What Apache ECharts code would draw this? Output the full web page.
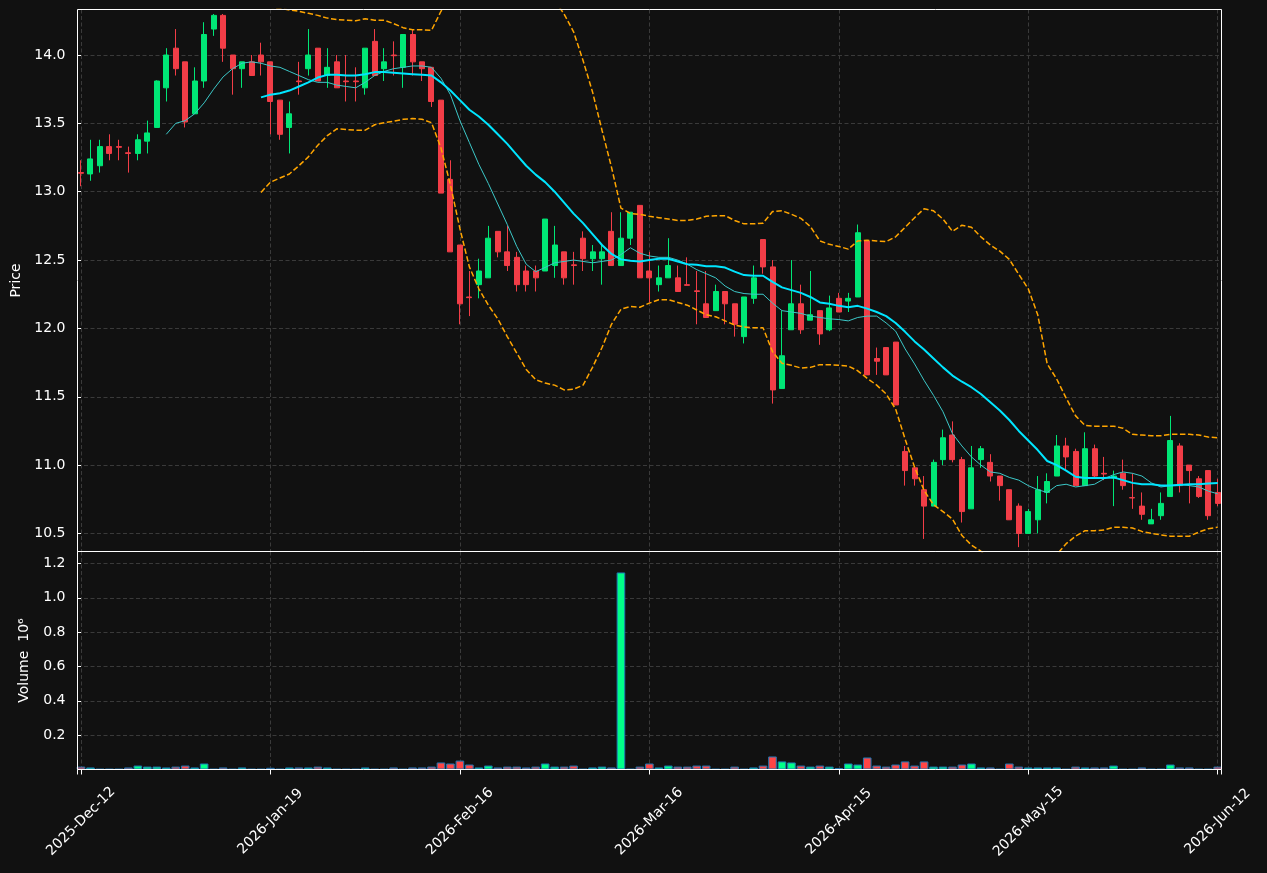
<!DOCTYPE html>
<html>
<head>
<meta charset="utf-8">
<script src="https://cdn.jsdelivr.net/npm/echarts@6/dist/echarts.min.js"></script>
<style>
  html, body { margin: 0; padding: 0; background: #111111; }
  #chart { width: 1267px; height: 873px; }
</style>
</head>
<body>
<div id="chart"></div>
<script>
// x tick labels, one every 20 sessions
const tickLabels = ['2025-Dec-12', '2026-Jan-19', '2026-Feb-16', '2026-Mar-16', '2026-Apr-15', '2026-May-15', '2026-Jun-12']

const opens = [
  13.14, 13.13, 13.19, 13.33, 13.33, 13.285, 13.28, 13.37, 13.47, 13.76,
  14.05, 13.95, 13.57, 13.81, 14.19, 14.29, 14.00, 13.90, 13.95, 14.00,
  13.95, 13.67, 13.47, 13.81, 13.90, 14.05, 13.85, 13.95, 13.81, 13.81,
  13.76, 14.10, 13.90, 14.00, 13.91, 14.15, 13.95, 13.91, 13.67, 13.09,
  12.61, 12.23, 12.32, 12.37, 12.71, 12.56, 12.52, 12.42, 12.42, 12.42,
  12.46, 12.56, 12.465, 12.66, 12.51, 12.51, 12.71, 12.46, 12.66, 12.90,
  12.42, 12.32, 12.37, 12.37, 12.32, 12.275, 12.18, 12.13, 12.27, 12.18,
  11.94, 12.22, 12.65, 12.45, 11.56, 11.99, 12.18, 12.06, 12.13, 11.99,
  12.22, 12.20, 12.23, 12.64, 11.78, 11.86, 11.90, 11.10, 10.98, 10.82,
  10.70, 11.04, 11.22, 11.04, 10.68, 11.04, 11.02, 10.92, 10.82, 10.70,
  10.50, 10.60, 10.80, 10.92, 11.14, 11.10, 10.85, 11.12, 10.94, 10.905,
  10.94, 10.762, 10.70, 10.57, 10.63, 10.77, 11.14, 11.00, 10.90, 10.96,
  10.80
]
const closes = [
  13.135, 13.24, 13.33, 13.28, 13.325, 13.28, 13.38, 13.43, 13.81, 14.00,
  13.90, 13.51, 13.81, 14.15, 14.29, 14.05, 13.90, 13.95, 13.85, 13.95,
  13.66, 13.42, 13.57, 13.805, 14.00, 13.81, 13.91, 13.76, 13.805, 13.805,
  14.05, 13.85, 13.95, 13.995, 14.15, 13.95, 13.90, 13.66, 12.99, 12.56,
  12.18, 12.225, 12.42, 12.66, 12.56, 12.46, 12.32, 12.32, 12.37, 12.80,
  12.61, 12.37, 12.46, 12.51, 12.56, 12.56, 12.46, 12.66, 12.85, 12.37,
  12.37, 12.37, 12.46, 12.27, 12.315, 12.27, 12.08, 12.27, 12.18, 12.03,
  12.23, 12.37, 12.45, 11.55, 11.80, 12.18, 11.99, 12.10, 11.96, 12.15,
  12.12, 12.22, 12.70, 11.66, 11.76, 11.66, 11.44, 10.96, 10.90, 10.70,
  11.02, 11.20, 11.04, 10.66, 10.98, 11.12, 10.92, 10.85, 10.60, 10.50,
  10.66, 10.82, 10.88, 11.14, 11.06, 10.85, 11.12, 10.92, 10.935, 10.92,
  10.85, 10.76, 10.64, 10.60, 10.72, 11.18, 10.85, 10.96, 10.77, 10.63,
  10.72
]
const lows = [
  13.04, 13.08, 13.14, 13.23, 13.23, 13.14, 13.23, 13.28, 13.47, 13.66,
  13.85, 13.47, 13.57, 13.76, 14.14, 13.95, 13.71, 13.76, 13.85, 13.85,
  13.42, 13.38, 13.28, 13.71, 13.85, 13.81, 13.76, 13.76, 13.66, 13.66,
  13.71, 13.85, 13.81, 13.85, 13.76, 13.85, 13.81, 13.62, 12.99, 12.56,
  12.03, 12.09, 12.22, 12.37, 12.52, 12.42, 12.27, 12.27, 12.27, 12.42,
  12.37, 12.32, 12.32, 12.42, 12.42, 12.32, 12.46, 12.46, 12.61, 12.37,
  12.19, 12.27, 12.37, 12.27, 12.315, 12.03, 12.08, 12.13, 12.03, 11.94,
  11.89, 12.18, 12.40, 11.45, 11.56, 11.99, 11.96, 12.06, 11.88, 11.98,
  12.12, 12.12, 12.23, 11.66, 11.66, 11.66, 11.44, 10.85, 10.85, 10.46,
  10.70, 11.00, 11.02, 10.58, 10.68, 10.98, 10.88, 10.74, 10.60, 10.40,
  10.50, 10.50, 10.72, 10.92, 10.96, 10.85, 10.85, 10.90, 10.89, 10.70,
  10.82, 10.68, 10.60, 10.57, 10.60, 10.77, 10.80, 10.72, 10.76, 10.60,
  10.70
]
const highs = [
  13.23, 13.38, 13.38, 13.42, 13.38, 13.33, 13.42, 13.52, 13.815, 14.05,
  14.19, 13.95, 13.91, 14.24, 14.30, 14.30, 14.00, 13.95, 14.00, 14.09,
  13.95, 13.67, 13.66, 13.95, 14.19, 14.05, 14.05, 14.00, 14.00, 13.91,
  14.05, 14.19, 14.05, 14.10, 14.15, 14.19, 13.95, 13.91, 13.67, 13.23,
  12.61, 12.42, 12.51, 12.75, 12.71, 12.75, 12.56, 12.46, 12.46, 12.80,
  12.75, 12.56, 12.56, 12.71, 12.61, 12.61, 12.85, 12.85, 12.85, 12.90,
  12.56, 12.46, 12.66, 12.46, 12.52, 12.42, 12.42, 12.32, 12.27, 12.18,
  12.23, 12.46, 12.65, 12.50, 12.13, 12.50, 12.32, 12.42, 12.13, 12.24,
  12.26, 12.26, 12.76, 12.64, 11.86, 11.86, 11.90, 11.14, 10.98, 10.92,
  11.04, 11.26, 11.32, 11.06, 11.14, 11.14, 11.08, 10.92, 10.82, 10.72,
  10.68, 10.92, 10.94, 11.22, 11.20, 11.12, 11.24, 11.15, 11.06, 10.96,
  11.04, 10.94, 10.80, 10.68, 10.80, 11.36, 11.16, 11.00, 10.92, 10.96,
  10.90
]
// volume in millions
const volumes = [
  0.017, 0.012, 0.003, 0.003, 0.003, 0.012, 0.023, 0.017, 0.017, 0.012,
  0.017, 0.023, 0.012, 0.035, 0.003, 0.012, 0.003, 0.012, 0.003, 0.003,
  0.010, 0.003, 0.012, 0.012, 0.012, 0.017, 0.012, 0.003, 0.003, 0.003,
  0.012, 0.003, 0.003, 0.012, 0.003, 0.012, 0.012, 0.017, 0.041, 0.035,
  0.052, 0.029, 0.012, 0.023, 0.012, 0.017, 0.017, 0.012, 0.017, 0.035,
  0.017, 0.017, 0.023, 0.003, 0.012, 0.017, 0.012, 1.148, 0.003, 0.017,
  0.035, 0.012, 0.023, 0.017, 0.017, 0.023, 0.023, 0.003, 0.003, 0.017,
  0.003, 0.012, 0.023, 0.076, 0.047, 0.041, 0.023, 0.017, 0.023, 0.017,
  0.008, 0.035, 0.029, 0.070, 0.023, 0.017, 0.029, 0.047, 0.023, 0.047,
  0.017, 0.017, 0.017, 0.029, 0.035, 0.012, 0.012, 0.003, 0.035, 0.017,
  0.012, 0.012, 0.012, 0.012, 0.003, 0.017, 0.012, 0.012, 0.012, 0.023,
  0.003, 0.003, 0.012, 0.003, 0.003, 0.029, 0.012, 0.012, 0.003, 0.003,
  0.017
]
const ma10 = [
  null, null, null, null, null, null, null, null, null, 13.42,
  13.50, 13.52, 13.57, 13.65, 13.75, 13.84, 13.90, 13.94, 13.95, 13.94,
  13.92, 13.91, 13.88, 13.85, 13.82, 13.80, 13.80, 13.78, 13.77, 13.76,
  13.80, 13.85, 13.88, 13.90, 13.91, 13.92, 13.92, 13.91, 13.83, 13.71,
  13.52, 13.36, 13.20, 13.06, 12.91, 12.76, 12.60, 12.47, 12.415, 12.446,
  12.48, 12.49, 12.50, 12.49, 12.48, 12.49, 12.50, 12.54, 12.59, 12.55,
  12.53, 12.52, 12.52, 12.50, 12.47, 12.43, 12.40, 12.37, 12.31, 12.27,
  12.255, 12.25, 12.25, 12.185, 12.13, 12.12, 12.11, 12.09, 12.08, 12.07,
  12.065, 12.055, 12.08, 12.09, 12.09, 12.04, 11.98, 11.85, 11.74, 11.62,
  11.51, 11.39, 11.23, 11.14, 11.06, 11.00, 10.95, 10.94, 10.91, 10.89,
  10.85, 10.82, 10.80, 10.85, 10.86, 10.84, 10.85, 10.86, 10.90, 10.93,
  10.95, 10.94, 10.92, 10.87, 10.84, 10.85, 10.86, 10.85, 10.84, 10.81,
  10.79
]
const ma20 = [
  null, null, null, null, null, null, null, null, null, null,
  null, null, null, null, null, null, null, null, null, 13.69,
  13.71, 13.72, 13.74, 13.77, 13.80, 13.835, 13.855, 13.855, 13.85, 13.85,
  13.86, 13.875, 13.875, 13.87, 13.865, 13.86, 13.855, 13.85, 13.80, 13.74,
  13.67, 13.60, 13.55, 13.49, 13.42, 13.35, 13.27, 13.19, 13.125, 13.07,
  13.00, 12.92, 12.84, 12.77, 12.69, 12.61, 12.545, 12.505, 12.495, 12.49,
  12.50, 12.51, 12.51, 12.49, 12.47, 12.465, 12.455, 12.455, 12.445, 12.415,
  12.39, 12.385, 12.385, 12.34, 12.30, 12.28, 12.26, 12.23, 12.19, 12.18,
  12.165, 12.155, 12.165, 12.145, 12.12, 12.09, 12.04, 11.975, 11.905, 11.845,
  11.78, 11.715, 11.655, 11.61, 11.57, 11.52, 11.46, 11.40, 11.33, 11.25,
  11.18, 11.11, 11.03, 11.00, 10.96, 10.915, 10.905, 10.905, 10.905, 10.91,
  10.89, 10.87, 10.86, 10.86, 10.85, 10.85, 10.855, 10.86, 10.86, 10.865,
  10.87
]
const bollUpper = [
  null, null, null, null, null, null, null, null, null, null,
  null, null, null, null, null, null, null, null, null, 14.38,
  14.35, 14.34, 14.33, 14.32, 14.305, 14.29, 14.27, 14.26, 14.255, 14.25,
  14.265, 14.255, 14.255, 14.23, 14.20, 14.185, 14.185, 14.18, 14.32, 14.43,
  14.61, 14.75, 14.82, 14.81, 14.77, 14.76, 14.72, 14.67, 14.63, 14.53,
  14.40, 14.30, 14.17, 13.96, 13.73, 13.45, 13.18, 12.88, 12.84, 12.835,
  12.82, 12.81, 12.80, 12.79, 12.79, 12.80, 12.82, 12.825, 12.825, 12.79,
  12.765, 12.765, 12.77, 12.855, 12.86, 12.835, 12.805, 12.745, 12.64, 12.615,
  12.60, 12.58, 12.64, 12.645, 12.64, 12.635, 12.67, 12.74, 12.81, 12.875,
  12.86, 12.80, 12.71, 12.755, 12.74, 12.67, 12.61, 12.565, 12.505, 12.395,
  12.29, 12.10, 11.74, 11.63, 11.49, 11.36, 11.29, 11.285, 11.285, 11.285,
  11.27, 11.225, 11.22, 11.215, 11.215, 11.225, 11.225, 11.225, 11.22, 11.205,
  11.20
]
const bollLower = [
  null, null, null, null, null, null, null, null, null, null,
  null, null, null, null, null, null, null, null, null, 12.995,
  13.07, 13.10, 13.13, 13.19, 13.255, 13.34, 13.41, 13.46, 13.455, 13.45,
  13.45, 13.49, 13.505, 13.515, 13.53, 13.535, 13.53, 13.505, 13.32, 13.05,
  12.73, 12.45, 12.29, 12.17, 12.07, 11.94, 11.82, 11.70, 11.625, 11.60,
  11.585, 11.55, 11.555, 11.585, 11.715, 11.86, 12.03, 12.14, 12.16, 12.155,
  12.185, 12.21, 12.21, 12.19, 12.17, 12.135, 12.10, 12.085, 12.055, 12.025,
  12.01, 12.005, 12.005, 11.83, 11.745, 11.73, 11.71, 11.715, 11.735, 11.735,
  11.73, 11.725, 11.69, 11.635, 11.585, 11.52, 11.41, 11.19, 10.985, 10.815,
  10.71, 10.66, 10.605, 10.485, 10.415, 10.37, 10.31, 10.24, 10.15, 10.105,
  10.07, 10.12, 10.32, 10.345, 10.425, 10.48, 10.52, 10.52, 10.525, 10.545,
  10.545, 10.54, 10.515, 10.50, 10.49, 10.48, 10.48, 10.48, 10.51, 10.535,
  10.545
]

const upColor = '#00e676'
const downColor = '#f23d47'
const volUp = '#00ff88'
const volDown = '#ff4545'
const gridLine = { show: true, lineStyle: { color: '#3a3a3a', width: 1, type: [4, 2.5] } }

const idx = opens.map((_, i) => i)
const candleData = idx.map((i) => [i, opens[i], closes[i], lows[i], highs[i]])
const volumeData = idx.map((i) => ({
  value: [i, volumes[i]],
  itemStyle: { color: closes[i] >= opens[i] ? volUp : volDown },
}))
function toPoints(arr) {
  return idx.filter((i) => arr[i] != null).map((i) => [i, arr[i]])
}

const chart = echarts.init(document.getElementById('chart'), null, { renderer: 'canvas' })

// panel boxes (pixels); half-pixel offsets keep the white frames crisp
const pricePanel = { left: 77.5, top: 9.5, width: 1144, height: 542 }
const volumePanel = { left: 77.5, top: 551.5, width: 1144, height: 218 }

const xBase = {
  type: 'value',
  min: -0.37,
  max: 120.4,
  splitNumber: 6,
  axisLine: { show: false },
  splitLine: gridLine,
}
const nameStyle = { color: '#ffffff', fontSize: 14, fontFamily: 'DejaVu Sans' }

function frame(p) {
  return {
    type: 'rect',
    z: 100,
    silent: true,
    shape: { x: p.left, y: p.top, width: p.width, height: p.height },
    style: { fill: null, stroke: '#ffffff', lineWidth: 1 },
  }
}

const option = {
  backgroundColor: '#111111',
  animation: false,
  textStyle: { fontFamily: 'DejaVu Sans' },
  grid: [
    { ...pricePanel, show: false },
    { ...volumePanel, show: false },
  ],
  graphic: [frame(pricePanel), frame(volumePanel)],
  xAxis: [
    {
      ...xBase,
      gridIndex: 0,
      axisLabel: { show: false },
      axisTick: { show: false },
    },
    {
      ...xBase,
      gridIndex: 1,
      axisTick: { show: true, length: 5, lineStyle: { color: '#ffffff' } },
      axisLabel: {
        color: '#ffffff',
        fontSize: 14,
        fontFamily: 'DejaVu Sans',
        rotate: 45,
        align: 'center',
        verticalAlign: 'middle',
        margin: 52,
        formatter: (v) => {
          const k = v / 20
          return Number.isInteger(k) && tickLabels[k] ? tickLabels[k] : ''
        },
      },
    },
  ],
  yAxis: [
    {
      type: 'value',
      gridIndex: 0,
      min: 10.368,
      max: 14.333,
      splitNumber: 8,
      name: 'Price',
      nameLocation: 'middle',
      nameRotate: 90,
      nameGap: 52,
      nameTextStyle: nameStyle,
      axisLine: { show: false },
      axisTick: { show: true, length: 4, lineStyle: { color: '#ffffff' } },
      axisLabel: {
        color: '#ffffff',
        fontSize: 14,
        fontFamily: 'DejaVu Sans',
        margin: 12,
        showMinLabel: false,
        showMaxLabel: false,
        formatter: (v) => (Math.abs(v * 2 - Math.round(v * 2)) < 1e-6 ? v.toFixed(1) : ''),
      },
      splitLine: gridLine,
    },
    {
      type: 'value',
      gridIndex: 1,
      min: 0,
      max: 1.27,
      interval: 0.2,
      name: 'Volume  10⁶',
      nameLocation: 'middle',
      nameRotate: 90,
      nameGap: 46,
      nameTextStyle: nameStyle,
      axisLine: { show: false },
      axisTick: { show: true, length: 4, lineStyle: { color: '#ffffff' } },
      axisLabel: {
        color: '#ffffff',
        fontSize: 14,
        fontFamily: 'DejaVu Sans',
        margin: 12,
        showMaxLabel: false,
        formatter: (v) => {
          if (v <= 0) return ''
          return Math.abs(v * 5 - Math.round(v * 5)) < 1e-6 ? v.toFixed(1) : ''
        },
      },
      splitLine: gridLine,
    },
  ],
  series: [
    {
      type: 'candlestick',
      xAxisIndex: 0,
      yAxisIndex: 0,
      barWidth: 5.5,
      clip: true,
      data: candleData,
      itemStyle: {
        color: upColor,
        color0: downColor,
        borderColor: upColor,
        borderColor0: downColor,
        borderWidth: 1,
      },
    },
    {
      type: 'line',
      name: 'MA10',
      xAxisIndex: 0,
      yAxisIndex: 0,
      data: toPoints(ma10),
      showSymbol: false,
      clip: true,
      lineStyle: { color: '#3cc8c8', width: 1 },
    },
    {
      type: 'line',
      name: 'MA20',
      xAxisIndex: 0,
      yAxisIndex: 0,
      data: toPoints(ma20),
      showSymbol: false,
      clip: true,
      lineStyle: { color: '#00e5ff', width: 2 },
    },
    {
      type: 'line',
      name: 'BB upper',
      xAxisIndex: 0,
      yAxisIndex: 0,
      data: toPoints(bollUpper),
      showSymbol: false,
      clip: true,
      lineStyle: { color: '#ffa500', width: 1.5, type: [5.5, 2.5] },
    },
    {
      type: 'line',
      name: 'BB lower',
      xAxisIndex: 0,
      yAxisIndex: 0,
      data: toPoints(bollLower),
      showSymbol: false,
      clip: true,
      lineStyle: { color: '#ffa500', width: 1.5, type: [5.5, 2.5] },
    },
    {
      type: 'bar',
      xAxisIndex: 1,
      yAxisIndex: 1,
      barWidth: 8.6,
      data: volumeData,
      itemStyle: { borderColor: '#1f77b4', borderWidth: 1 },
    },
  ],
}

chart.setOption(option)
</script>
</body>
</html>
